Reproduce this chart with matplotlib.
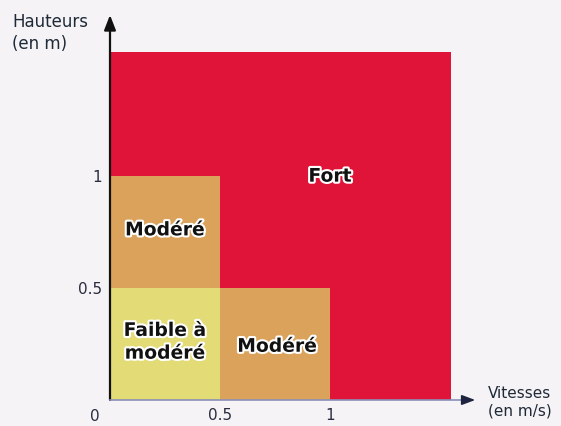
import matplotlib.pyplot as plt
import matplotlib.patheffects as pe

# hazard zones: (label, x from, x to, y from, y to)
zone_labels = ["Fort", "Modéré", "Modéré", "Faible à\nmodéré"]
x_from = [0.0, 0.0, 0.5, 0.0]
x_to = [1.55, 0.5, 1.0, 0.5]
y_from = [0.0, 0.5, 0.0, 0.0]
y_to = [1.555, 1.0, 0.5, 0.5]
zone_colors = ["#df1438", "#dba25c", "#dba25c", "#e2db76"]
label_x = [1.0, 0.25, 0.76, 0.25]
label_y = [1.0, 0.76, 0.24, 0.26]

x_ticks = [0.5, 1]
x_tick_labels = ["0.5", "1"]
y_ticks = [0.5, 1]
y_tick_labels = ["0.5", "1"]

fig = plt.figure(figsize=(5.61, 4.26), dpi=100)
fig.patch.set_facecolor("#f5f3f5")
ax = fig.add_axes([110 / 561, 26 / 426, 363 / 561, 385 / 426])
ax.set_facecolor("none")
ax.set_xlim(0, 1.65)
ax.set_ylim(0, 1.72)

for x0, x1, y0, y1, c in zip(x_from, x_to, y_from, y_to, zone_colors):
    ax.bar(x0, y1 - y0, width=x1 - x0, bottom=y0, align="edge", color=c,
           edgecolor="none", zorder=1)

halo = [pe.withStroke(linewidth=3, foreground="white")]
for lab, lx, ly in zip(zone_labels, label_x, label_y):
    ax.text(lx, ly, lab, ha="center", va="center", fontsize=13.5,
            fontweight="bold", color="#111111", path_effects=halo,
            linespacing=1.25, zorder=3)

for s in ax.spines.values():
    s.set_visible(False)

# axes with arrows
ax.annotate("", xy=(0, 1.72), xytext=(0, 0),
            arrowprops=dict(arrowstyle="-|>,head_width=0.35,head_length=0.9",
                            color="#111111", lw=1.6, shrinkA=0, shrinkB=0),
            annotation_clip=False, zorder=4)
ax.plot([0, 1.62], [0, 0], color="#8a90b8", lw=1.2, clip_on=False, zorder=4)
ax.annotate("", xy=(1.66, 0), xytext=(1.6, 0),
            arrowprops=dict(arrowstyle="-|>,head_width=0.3,head_length=0.8",
                            color="#1e2340", lw=1.2, shrinkA=0, shrinkB=0),
            annotation_clip=False, zorder=4)

ax.set_xticks(x_ticks)
ax.set_xticklabels(x_tick_labels)
ax.set_yticks(y_ticks)
ax.set_yticklabels(y_tick_labels)
ax.tick_params(length=0, labelsize=11, colors="#2a2c40")
ax.tick_params(axis="x", pad=6)
ax.tick_params(axis="y", pad=6)
ax.text(-0.07, -0.04, "0", ha="center", va="top", fontsize=11,
        color="#2a2c40")

fig.text(12 / 561, 1 - 33 / 426, "Hauteurs\n(en m)", ha="left", va="center",
         fontsize=12, color="#1e2a38", linespacing=1.3)
fig.text(488 / 561, 1 - 402 / 426, "Vitesses\n(en m/s)", ha="left",
         va="center", fontsize=11, color="#1e2a38", linespacing=1.2)

plt.savefig("out.png", dpi=100, facecolor=fig.get_facecolor())
